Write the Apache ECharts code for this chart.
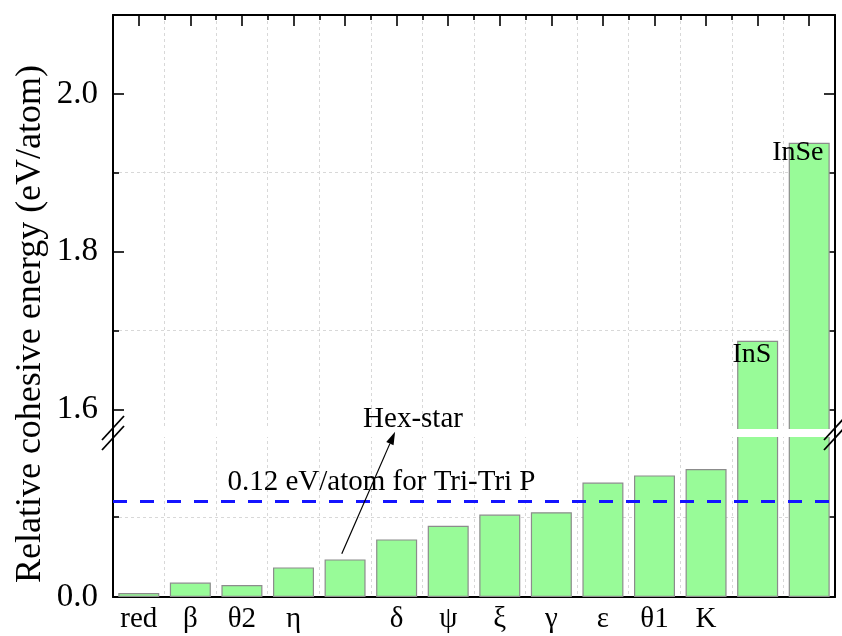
<!DOCTYPE html>
<html><head><meta charset="utf-8">
<script src="https://cdn.jsdelivr.net/npm/echarts@6/dist/echarts.min.js"></script>
<style>html,body{margin:0;padding:0;background:#fff}#c{width:842px;height:636px}</style>
</head><body><div id="c"></div>
<script>
// ---- data ----
const categories = ['red','β','θ2','η','Hex-star','δ','ψ','ξ','γ','ε','θ1','K','InS','InSe'];
const tickLabels = ['red','β','θ2','η','','δ','ψ','ξ','γ','ε','θ1','K','',''];
const energies = [0.005,0.018,0.015,0.037,0.047,0.072,0.089,0.103,0.106,0.143,0.152,0.160,1.687,1.938];
const referenceValue = 0.117;
const referenceText = '0.12 eV/atom for Tri-Tri P';
const lowerRange = [0, 0.2025];
const upperRange = [1.5725, 2.1];
const upperMajorTicks = [1.6, 1.8, 2.0];
const upperMinorTicks = [1.7, 1.9];
const upperRightTicks = [1.6, 1.7, 1.8, 1.9, 2.0];
const lowerMajorTicks = [0];
const lowerMinorTicks = [0.1];
const yTitle = 'Relative cohesive energy (eV/atom)';

// ---- styling ----
const FONT = "'Liberation Serif','Times New Roman',serif";
const BLACK = '#000';
const gridLine = {show: true, lineStyle: {color: '#d8d8d8', width: 1, type: [3, 3]}};
const axLine = {show: true, onZero: false, lineStyle: {color: BLACK, width: 2}};
const noLine = {show: false, onZero: false};

const chart = echarts.init(document.getElementById('c'), null, {renderer: 'canvas'});

const upperData = energies.map(v => v > upperRange[0] ? v : '-');

function yAx(grid, pos, range, ticks, len, opts) {
  return Object.assign({
    type: 'value', gridIndex: grid, position: pos, min: range[0], max: range[1],
    axisLine: noLine,
    axisTick: {show: true, inside: true, length: len, customValues: ticks, lineStyle: {color: BLACK, width: 1.6}},
    axisLabel: {show: false},
    splitLine: {show: false}
  }, opts || {});
}

const labelStyle = {show: true, color: BLACK, fontFamily: FONT, fontSize: 33, margin: 15,
                    formatter: v => Number(v).toFixed(1)};

chart.setOption({
  animation: false,
  backgroundColor: '#fff',
  grid: [
    {left: 113, right: 7, top: 15, height: 416},
    {left: 113, right: 7, top: 435, height: 162}
  ],
  xAxis: [
    {type: 'category', gridIndex: 0, position: 'top', data: categories,
     axisLine: axLine,
     axisTick: {show: true, inside: true, length: 5, interval: 0, lineStyle: {color: BLACK, width: 1.6}},
     axisLabel: {show: false}, splitLine: Object.assign({interval: 0}, gridLine)},
    {type: 'category', gridIndex: 1, position: 'bottom', data: categories,
     axisLine: axLine, axisTick: {show: false},
     axisLabel: {show: true, interval: 0, color: BLACK, fontFamily: FONT, fontSize: 29, margin: 8,
                 formatter: (v, i) => tickLabels[i]},
     splitLine: Object.assign({interval: 0}, gridLine)},
    {type: 'category', gridIndex: 0, position: 'top', data: categories,
     axisLine: noLine,
     axisTick: {show: true, inside: true, alignWithLabel: true, length: 11, interval: 0, lineStyle: {color: BLACK, width: 1.6}},
     axisLabel: {show: false}, splitLine: {show: false}}
  ],
  yAxis: [
    yAx(0, 'left', upperRange, upperMajorTicks, 11, {axisLine: axLine,
        axisLabel: Object.assign({customValues: upperMajorTicks}, labelStyle)}),
    yAx(0, 'left', upperRange, upperMinorTicks, 6, {splitLine: gridLine}),
    yAx(0, 'right', upperRange, upperRightTicks, 11, {axisLine: axLine}),
    yAx(1, 'left', lowerRange, lowerMajorTicks, 11, {axisLine: axLine,
        axisLabel: Object.assign({customValues: lowerMajorTicks}, labelStyle)}),
    yAx(1, 'left', lowerRange, lowerMinorTicks, 6, {splitLine: gridLine}),
    yAx(1, 'right', lowerRange, lowerMinorTicks, 11, {axisLine: axLine})
  ],
  series: [
    {type: 'bar', xAxisIndex: 1, yAxisIndex: 3, data: energies, barWidth: 41, clip: true,
     itemStyle: {color: '#98fb98', borderColor: '#8c8c8c', borderWidth: 1.2},
     markLine: {silent: true, symbol: 'none', label: {show: false},
                lineStyle: {color: '#1414ff', width: 3, type: [14, 13]},
                data: [{yAxis: referenceValue}]}},
    {type: 'bar', xAxisIndex: 0, yAxisIndex: 0, data: upperData, barWidth: 41, clip: true,
     itemStyle: {color: '#98fb98', borderColor: '#8c8c8c', borderWidth: 1.2}}
  ]
});

// ---- annotations positioned through the axes ----
function P(cat, val, grid) {
  const finder = grid === 'lower' ? {xAxisIndex: 1, yAxisIndex: 3} : {xAxisIndex: 0, yAxisIndex: 0};
  const a = chart.convertToPixel(finder, [0, val]);
  const b = chart.convertToPixel(finder, [1, val]);
  return [a[0] + (b[0] - a[0]) * cat, a[1]];
}
function txt(text, pt, size) {
  return {type: 'text', x: pt[0], y: pt[1], z: 100,
    style: {text: text, x: 0, y: 0, fill: BLACK, font: size + 'px ' + FONT,
            align: 'center', verticalAlign: 'middle', textAlign: 'center', textVerticalAlign: 'middle'}};
}
const upBottom = P(0, upperRange[0], 'upper');
const upTop = P(0, upperRange[1], 'upper');
const loTop = P(0, lowerRange[1], 'lower');
const loBottom = P(0, lowerRange[0], 'lower');
const leftX = P(-0.5, 0, 'lower')[0];
const rightX = P(categories.length - 0.5, 0, 'lower')[0];
const breakY = (upBottom[1] + loTop[1]) / 2;

const arrowS = P(3.936, 0.054, 'lower');
const arrowT = P(4.97, 0.2066, 'lower');
const dx = arrowT[0] - arrowS[0], dy = arrowT[1] - arrowS[1];
const L = Math.hypot(dx, dy), ux = dx / L, uy = dy / L;
const hl = 13, hw = 4;
const base = [arrowT[0] - ux * hl, arrowT[1] - uy * hl];

const g = [];
// white break band across the bars
g.push({type: 'rect', z: 90, shape: {x: leftX + 1, y: breakY - 4, width: rightX - leftX - 2, height: 8},
        style: {fill: '#fff'}});
// y-axis title
g.push({type: 'text', x: 31, y: (upTop[1] + loBottom[1]) / 2 + 18, rotation: Math.PI / 2, z: 100,
  style: {text: yTitle, x: 0, y: 0, fill: BLACK, font: '36px ' + FONT,
          align: 'center', verticalAlign: 'middle', textAlign: 'center', textVerticalAlign: 'middle'}});
// axis line continuation + break marks
[leftX, rightX].forEach(x => {
  g.push({type: 'line', z: 100, shape: {x1: x, y1: upBottom[1], x2: x, y2: loTop[1]},
          style: {stroke: BLACK, lineWidth: 2}});
  [-5, 5].forEach(o => {
    g.push({type: 'line', z: 100, shape: {x1: x - 11, y1: breakY + o + 12, x2: x + 11, y2: breakY + o - 12},
            style: {stroke: BLACK, lineWidth: 1.8}});
  });
});
// texts
g.push(txt(referenceText, P(4.706, 0.143, 'lower'), 29));
g.push(txt('Hex-star', P(5.317, 0.2225, 'lower'), 29));
g.push(txt('InS', P(11.89, 1.669, 'upper'), 28));
g.push(txt('InSe', P(12.78, 1.925, 'upper'), 28));
// arrow
g.push({type: 'line', z: 100, shape: {x1: arrowS[0], y1: arrowS[1], x2: base[0], y2: base[1]},
        style: {stroke: BLACK, lineWidth: 1.2}});
g.push({type: 'polygon', z: 100, shape: {points: [
          [arrowT[0], arrowT[1]],
          [base[0] - uy * hw, base[1] + ux * hw],
          [base[0] + uy * hw, base[1] - ux * hw]]},
        style: {fill: BLACK}});
chart.setOption({graphic: g});
</script></body></html>
